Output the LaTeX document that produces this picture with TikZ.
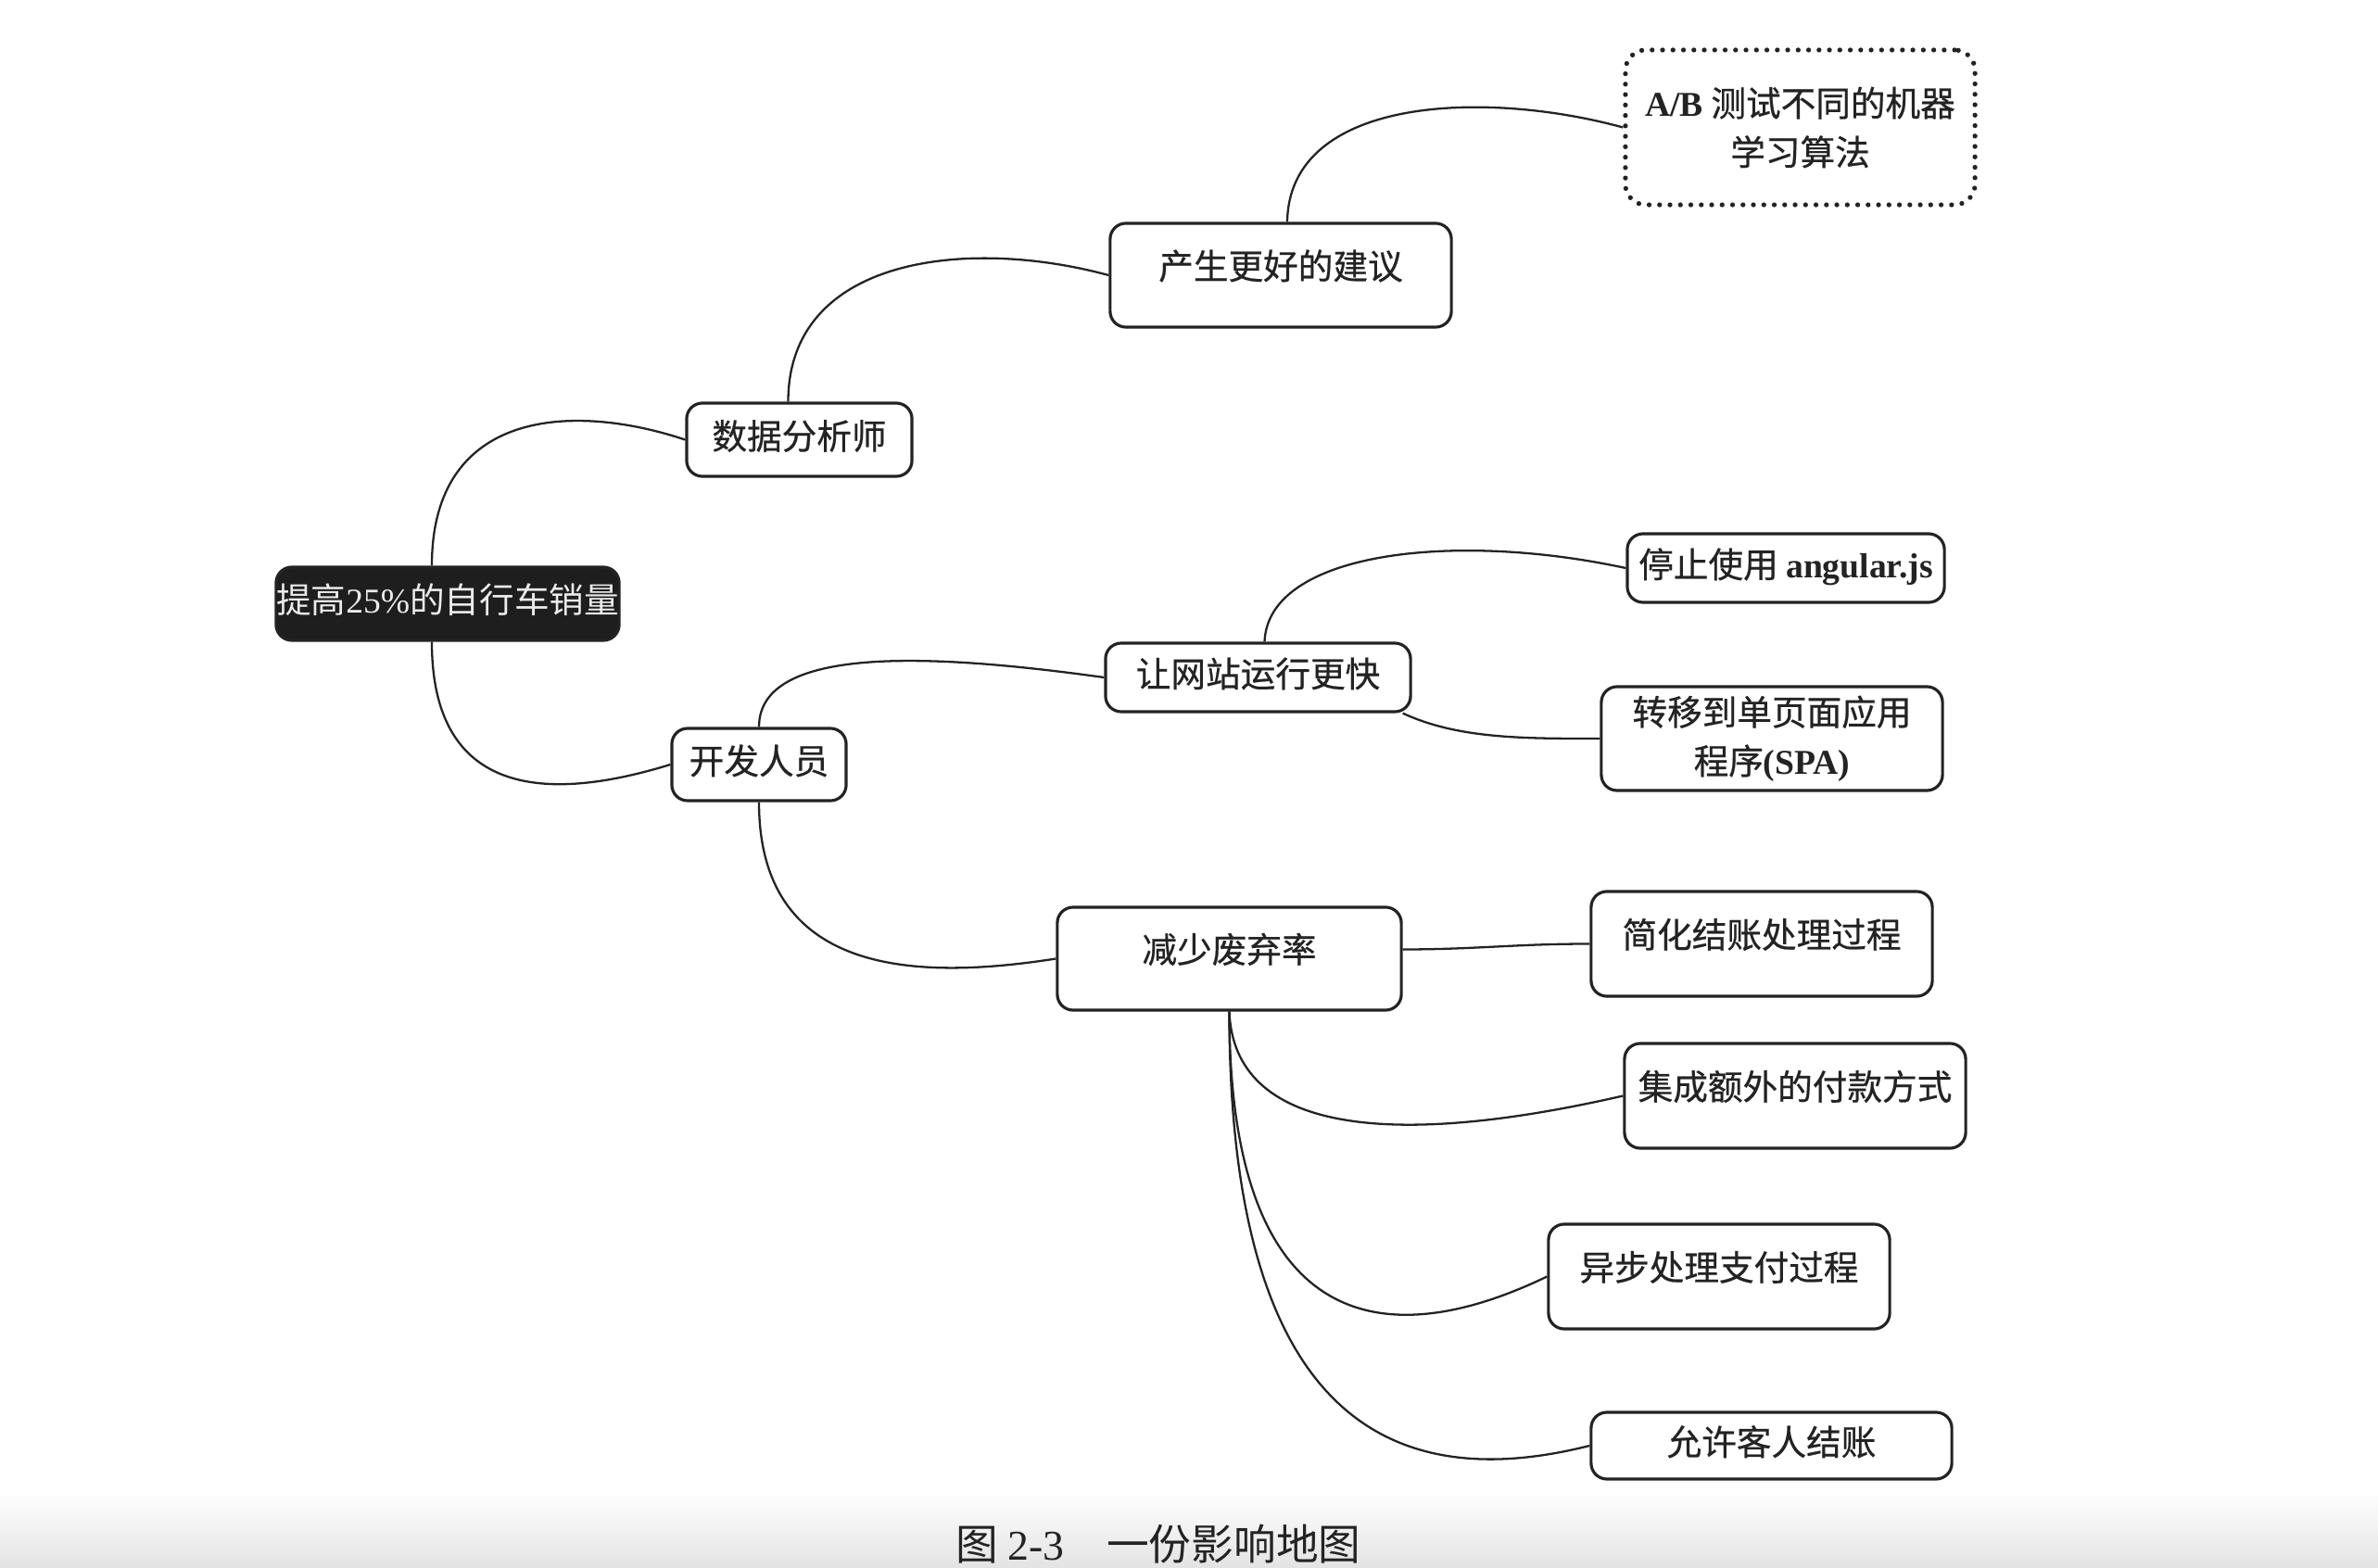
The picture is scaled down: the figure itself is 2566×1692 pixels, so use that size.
\documentclass[tikz,border=0pt]{standalone}
\usepackage{fontspec}
\setmainfont{Noto Sans CJK SC}
\newfontfamily\cjkmed{Noto Sans CJK SC}[FakeBold=0.6]
\newfontfamily\lat{Liberation Serif}
\newcommand\nodefont{\cjkmed\fontsize{10.7}{15}\selectfont}
\newcommand\rootfont{\fontsize{10.7}{15}\selectfont}
\newcommand\capfont{\fontsize{13}{16}\selectfont}
\newcommand\en[1]{{\lat\bfseries #1}}
\definecolor{rootfill}{RGB}{30,30,30}
\definecolor{ink}{RGB}{35,35,35}
\begin{document}
\begin{tikzpicture}[x=0.01cm, y=-0.01cm,
  box/.style={draw=ink, line width=0.9pt, rounded corners=0.17cm, inner sep=0pt,
    font=\nodefont, text=ink, text height=8.6pt, text depth=2.8pt},
  tall/.style={text depth=6.2pt},
  twoline/.style={draw=ink, line width=0.9pt, rounded corners=0.17cm, inner sep=0pt,
    font=\nodefont, text=ink, align=center},
  dotbox/.style={draw=ink, line width=1.5pt, dash pattern=on 0pt off 3.2pt, line cap=round,
    rounded corners=0.22cm, inner sep=0pt, font=\nodefont, text=ink, align=center},
  link/.style={line width=0.65pt, draw=ink}
]
\useasboundingbox (0,0) rectangle (2566,1692);
\fill[white] (0,0) rectangle (2566,1692);
\shade[top color=white, bottom color=black!11] (0,1610) rectangle (2566,1692);

% nodes
\node[box, font=\rootfont, fill=rootfill, text=white!92!black, minimum width=3.70cm, minimum height=0.79cm] (root) at (483,651.5) {提高{\lat 25\%}的自行车销量};
\node[box, minimum width=2.43cm, minimum height=0.79cm] (da) at (862.5,474.5) {数据分析师};
\node[box, minimum width=1.88cm, minimum height=0.78cm] (kf) at (819,825) {开发人员};
\node[box, tall, minimum width=3.68cm, minimum height=1.12cm] (cs) at (1382,297) {产生更好的建议};
\node[dotbox, minimum width=3.77cm, minimum height=1.67cm] (ab) at (1942.5,137.5) {\en{A/B} 测试不同的机器\\学习算法};
\node[box, minimum width=3.29cm, minimum height=0.74cm] (rw) at (1357.5,731) {让网站运行更快};
\node[box, minimum width=3.42cm, minimum height=0.74cm] (tz) at (1927,613) {停止使用 \en{angular.js}};
\node[twoline, minimum width=3.68cm, minimum height=1.12cm] (zy) at (1912,797) {转移到单页面应用\\程序\en{(SPA)}};
\node[box, tall, minimum width=3.71cm, minimum height=1.11cm] (js) at (1326.5,1034.5) {减少废弃率};
\node[box, tall, minimum width=3.68cm, minimum height=1.13cm] (jh) at (1901,1018.5) {简化结账处理过程};
\node[box, tall, minimum width=3.68cm, minimum height=1.13cm] (jc) at (1937,1182.5) {集成额外的付款方式};
\node[box, tall, minimum width=3.68cm, minimum height=1.13cm] (yb) at (1855,1377.5) {异步处理支付过程};
\node[box, minimum width=3.89cm, minimum height=0.72cm] (yx) at (1911.5,1560) {允许客人结账};
\node[font=\capfont, text=ink] (cap) at (1250,1666) {图 {\lat 2-3}\quad 一份影响地图};

% connectors
\draw[link] ([xshift=-0.17cm]root.north) .. controls +(0,-170) and +(-120,-40) .. (da.west);
\draw[link] ([xshift=-0.17cm]root.south) .. controls +(0,176) and +(-120,37) .. (kf.west);
\draw[link] ([xshift=-0.12cm]da.north) .. controls +(0,-157) and +(-151,-41) .. (cs.west);
\draw[link] ([xshift=0.07cm]cs.north) .. controls +(2,-135) and +(-150,-41) .. (ab.west);
\draw[link] (kf.north) .. controls +(0,-90) and +(-180,-25) .. (rw.west);
\draw[link] (kf.south) .. controls +(0,183) and +(-159,25) .. (js.west);
\draw[link] ([xshift=0.07cm]rw.north) .. controls +(4,-97) and +(-185,-40) .. (tz.west);
\draw[link] ([xshift=-0.1cm]rw.south east) .. controls +(60,28) and +(-80,0) .. (zy.west);
\draw[link] ([yshift=0.1cm]js.east) .. controls +(80,0) and +(-80,0) .. (jh.west);
\draw[link] (js.south) .. controls +(5,130) and +(-253,58) .. (jc.west);
\draw[link] (js.south) .. controls +(0,330) and +(-191,92) .. (yb.west);
\draw[link] (js.south) .. controls +(0,410) and +(-237,60) .. (yx.west);
\end{tikzpicture}
\end{document}
